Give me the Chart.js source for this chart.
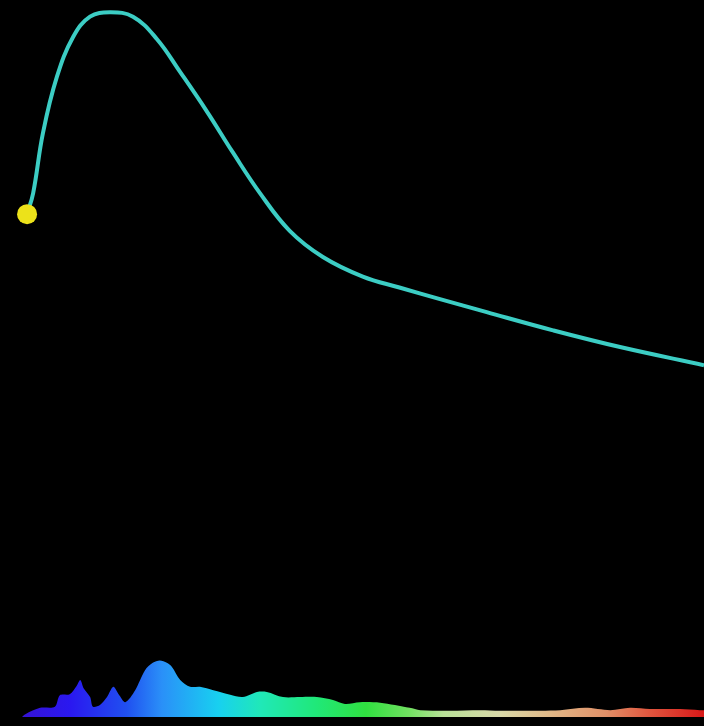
<!DOCTYPE html>
<html>
<head>
<meta charset="utf-8">
<script src="https://cdn.jsdelivr.net/npm/chart.js@4/dist/chart.umd.min.js"></script>
<style>
  html, body { margin: 0; padding: 0; background: #000; }
  #wrap { width: 704px; height: 726px; }
</style>
</head>
<body>
<div id="wrap"><canvas id="c" width="704" height="726"></canvas></div>
<script>
// Trajectory: time vs. value
const trackTime  = [0, 0.9, 2.35, 4.4, 6.8, 9.3, 12.25, 15.65, 19.2, 22.6, 26.6, 30.4, 34.4, 38.8, 43.7, 49.6, 55.0, 61.0, 67.9, 77.7, 87.6, 100];
const trackValue = [70.5, 73.4, 81.7, 89.4, 94.9, 97.7, 98.3, 97.7, 94.6, 90.1, 84.6, 79.0, 73.4, 68.2, 64.6, 61.9, 60.4, 58.8, 57.0, 54.5, 52.2, 49.7];

// Spectrum: bin position vs. relative intensity
const specBin = [3.1, 3.6, 5.7, 7.8, 8.5, 9.9, 10.9, 11.4, 11.9, 12.8, 13.2, 14.2, 15.2, 16.1, 16.9, 17.8, 19.2, 20.6, 21.7, 22.7, 23.7, 24.4, 25.6, 27.0, 28.4, 30.3, 32.7, 34.5, 36.5, 37.9, 40.2, 42.6, 45.0, 47.3, 49.0, 51.1, 54.0, 58.2, 59.7, 63.9, 68.2, 71.0, 73.9, 79.6, 83.1, 86.7, 89.5, 92.3, 96.6, 99.4, 100];
const specLevel = [0, 0.05, 0.16, 0.18, 0.38, 0.40, 0.55, 0.65, 0.50, 0.35, 0.18, 0.21, 0.35, 0.53, 0.39, 0.26, 0.47, 0.82, 0.95, 0.99, 0.95, 0.88, 0.65, 0.53, 0.53, 0.47, 0.39, 0.35, 0.44, 0.44, 0.35, 0.35, 0.35, 0.30, 0.23, 0.26, 0.25, 0.16, 0.12, 0.11, 0.12, 0.11, 0.11, 0.12, 0.16, 0.12, 0.16, 0.14, 0.14, 0.12, 0.12];

// Spectral colour stops across the bins (fraction of width)
const specStops = [
  [0.00, '#3a10c8'], [0.10, '#2a18f0'], [0.18, '#2050f0'], [0.23, '#2a90f8'],
  [0.31, '#18d0f0'], [0.37, '#20e8b8'], [0.45, '#20e878'], [0.52, '#30e040'],
  [0.58, '#70e060'], [0.63, '#b8e098'], [0.71, '#d8d8a8'], [0.78, '#e0b888'],
  [0.86, '#e09068'], [0.92, '#e05840'], [1.00, '#d81818']
];

const track = trackTime.map((t, i) => ({ x: t, y: trackValue[i] }));
const spectrum = specBin.map((b, i) => ({ x: b, y: specLevel[i] }));

function spectrumFill(context) {
  const chart = context.chart;
  const area = chart.chartArea;
  if (!area) return '#2090ff';
  const g = chart.ctx.createLinearGradient(area.left, 0, area.right, 0);
  specStops.forEach(([p, c]) => g.addColorStop(p, c));
  return g;
}

new Chart(document.getElementById('c'), {
  type: 'line',
  data: {
    datasets: [
      {
        label: 'spectrum',
        data: spectrum,
        xAxisID: 'x2',
        yAxisID: 'y2',
        fill: 'origin',
        backgroundColor: spectrumFill,
        borderWidth: 0,
        pointRadius: 0,
        tension: 0.3,
        order: 2
      },
      {
        label: 'track',
        data: track,
        xAxisID: 'x',
        yAxisID: 'y',
        borderColor: '#3ccdc4',
        borderWidth: 4,
        fill: false,
        tension: 0.4,
        pointRadius: (c) => c.dataIndex === 0 ? 10 : 0,
        pointBackgroundColor: '#ece21a',
        pointBorderWidth: 0,
        clip: false,
        order: 1
      }
    ]
  },
  options: {
    responsive: false,
    devicePixelRatio: 1,
    animation: false,
    layout: { padding: 0, autoPadding: false },
    plugins: { legend: { display: false }, tooltip: { enabled: false } },
    scales: {
      x:  { type: 'linear', display: false, min: -4, max: 100 },
      y:  { type: 'linear', display: false, min: 0, max: 100 },
      x2: { type: 'linear', display: false, min: 0, max: 100 },
      y2: { type: 'linear', display: false, min: -0.158, max: 12.579 }
    }
  }
});
</script>
</body>
</html>
